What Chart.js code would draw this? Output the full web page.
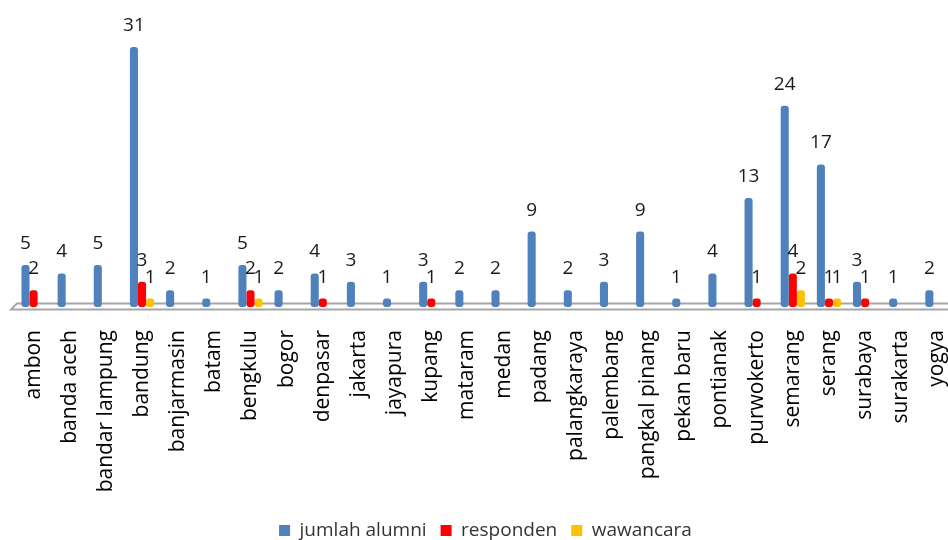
<!DOCTYPE html>
<html>
<head>
<meta charset="utf-8">
<script src="https://cdn.jsdelivr.net/npm/chart.js@4/dist/chart.umd.min.js"></script>
<style>
html,body{margin:0;padding:0;background:#fff;overflow:hidden;}
#wrap{width:948px;height:540px;overflow:hidden;position:relative;}
#c{position:absolute;left:-9px;top:0;}
</style>
</head>
<body>
<div id="wrap"><canvas id="c" width="966" height="540"></canvas></div>
<script>
const categories = ["ambon","banda aceh","bandar lampung","bandung","banjarmasin","batam","bengkulu","bogor","denpasar","jakarta","jayapura","kupang","mataram","medan","padang","palangkaraya","palembang","pangkal pinang","pekan baru","pontianak","purwokerto","semarang","serang","surabaya","surakarta","yogya"];
const jumlahAlumni = [5,4,5,31,2,1,5,2,4,3,1,3,2,2,9,2,3,9,1,4,13,24,17,3,1,2];
const responden    = [2,0,0,3,0,0,2,0,1,0,0,1,0,0,0,0,0,0,0,0,1,4,1,1,0,0];
const wawancara    = [0,0,0,1,0,0,1,0,0,0,0,0,0,0,0,0,0,0,0,0,0,2,1,0,0,0];
const seriesNames  = ["jumlah alumni","responden","wawancara"];

const FONT = "'Open Sans', 'Liberation Sans', sans-serif";

const floorPlugin = {
  id: 'floor',
  beforeDatasetsDraw(chart) {
    const {ctx, chartArea, scales} = chart;
    const y0 = scales.y.getPixelForValue(0);
    const l = chartArea.left;
    const r = chart.width + 2;
    ctx.save();
    ctx.beginPath();
    ctx.moveTo(l - 4.5, y0 + 2.5);
    ctx.lineTo(l + 1.5, y0 - 3.5);
    ctx.lineTo(r, y0 - 3.5);
    ctx.lineTo(r, y0 + 2.5);
    ctx.closePath();
    ctx.fillStyle = '#ffffff';
    ctx.fill();
    ctx.strokeStyle = '#a6a6a6';
    ctx.lineWidth = 2;
    ctx.stroke();
    ctx.restore();
  }
};

const labelPlugin = {
  id: 'valueLabels',
  afterDatasetsDraw(chart) {
    const {ctx} = chart;
    ctx.save();
    ctx.font = "19px " + FONT;
    ctx.fillStyle = '#1a1a1a';
    ctx.textAlign = 'center';
    ctx.textBaseline = 'alphabetic';
    chart.data.datasets.forEach((ds, di) => {
      const meta = chart.getDatasetMeta(di);
      meta.data.forEach((bar, i) => {
        const v = ds.data[i];
        if (!v) return;
        ctx.fillText(String(v), bar.x, bar.y - 16);
      });
    });
    ctx.restore();
  }
};

new Chart(document.getElementById('c'), {
  type: 'bar',
  data: {
    labels: categories,
    datasets: [
      {label: seriesNames[0], data: jumlahAlumni, backgroundColor: '#4f81bd'},
      {label: seriesNames[1], data: responden, backgroundColor: '#ff0000'},
      {label: seriesNames[2], data: wawancara, backgroundColor: '#ffc000'}
    ]
  },
  options: {
    responsive: false,
    animation: false,
    layout: {padding: {left: 24.5, right: 1.5, top: 5, bottom: -10}},
    datasets: {
      bar: {
        categoryPercentage: 0.67,
        barPercentage: 1.0,
        borderWidth: 0,
        borderRadius: 3,
        borderSkipped: false
      }
    },
    scales: {
      x: {
        grid: {display: false, drawTicks: false},
        border: {display: false},
        ticks: {
          autoSkip: false,
          maxRotation: 90,
          minRotation: 90,
          padding: 23,
          color: '#000',
          font: {family: FONT, size: 21}
        },
        afterFit(scale) {
          scale.height = 200;
          scale.paddingLeft = 0;
          scale.paddingRight = 0;
        }
      },
      y: {
        display: false,
        min: 0,
        max: 36
      }
    },
    plugins: {
      legend: {
        position: 'bottom',
        labels: {
          boxWidth: 11,
          boxHeight: 11,
          padding: 14,
          color: '#333',
          font: {family: FONT, size: 19}
        }
      },
      tooltip: {enabled: false}
    }
  },
  plugins: [floorPlugin, labelPlugin]
});
</script>
</body>
</html>
